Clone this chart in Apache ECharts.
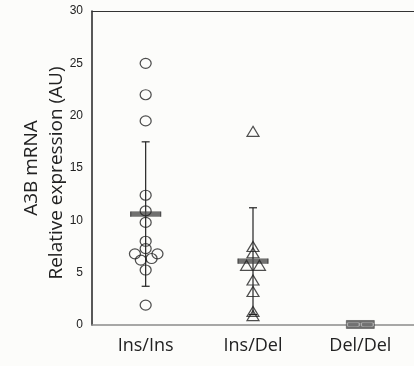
<!DOCTYPE html>
<html><head><meta charset="utf-8">
<script src="https://cdn.jsdelivr.net/npm/echarts@6/dist/echarts.min.js"></script>
<style>html,body{margin:0;padding:0;background:#fcfcfa}#c{width:414px;height:366px}</style>
</head><body><div id="c"></div>
<script>
const categories = ['Ins/Ins', 'Ins/Del', 'Del/Del'];
const yTicks = [0, 5, 10, 15, 20, 25, 30];
const insInsValues = [25, 22, 19.5, 12.4, 10.9, 9.8, 8.0, 7.3, 6.8, 6.2, 6.35, 6.8, 5.25, 1.9];
const insInsJitter = [0, 0, 0, 0, 0, 0, 0, 0, -0.1, -0.045, 0.055, 0.11, 0, 0];
const insDelValues = [18.5, 7.5, 6.9, 5.7, 5.7, 4.3, 3.2, 1.3, 0.9];
const insDelJitter = [0, 0, 0, -0.06, 0.06, 0, 0, 0, 0];
const delDelValues = [0.05, 0.05];
const delDelJitter = [-0.065, 0.065];
const means = [10.6, 6.1, 0.05];
const sdUpper = [17.5, 11.2, null];
const sdLower = [3.7, 1.0, null];

const toPts = (vals, jit, idx) => vals.map((v, i) => [idx + jit[i], v]);

const chart = echarts.init(document.getElementById('c'));
chart.setOption({
  backgroundColor: '#fcfcfa',
  animation: false,
  grid: { left: 92, right: -4, top: 11, bottom: 41 },
  xAxis: [
    { type: 'category', data: categories, boundaryGap: true, position: 'bottom',
      axisLine: { onZero: false, lineStyle: { color: '#8a8a8a', width: 1.5 } }, axisTick: { show: false },
      axisLabel: { color: '#222', fontSize: 18, fontFamily: 'Open Sans', margin: 12 } },
    { type: 'value', min: -0.5, max: 2.5, show: false, axisLine: { onZero: false } },
    { type: 'category', data: categories, position: 'top',
      axisLine: { onZero: false, lineStyle: { color: '#333', width: 1 } }, axisTick: { show: false }, axisLabel: { show: false } }
  ],
  yAxis: {
    type: 'value', min: yTicks[0], max: yTicks[yTicks.length - 1], interval: 5,
    axisLine: { show: true, onZero: false, lineStyle: { color: '#222', width: 1.5 } },
    axisTick: { show: false }, splitLine: { show: false },
    axisLabel: { color: '#222', fontSize: 12, fontFamily: 'Liberation Sans', margin: 9 }
  },
  graphic: [
    { type: 'text', x: 32, y: 168, rotation: Math.PI / 2, style: { text: 'A3B mRNA', font: '19px "Open Sans"', fill: '#222', align: 'center', verticalAlign: 'middle' } },
    { type: 'text', x: 57, y: 173, rotation: Math.PI / 2, style: { text: 'Relative expression (AU)', font: '19px "Open Sans"', fill: '#222', align: 'center', verticalAlign: 'middle' } }
  ],
  series: [
    { type: 'custom', xAxisIndex: 1, z: 2,
      data: means.map((m, i) => [i, sdLower[i], sdUpper[i]]).filter(d => d[2] != null),
      renderItem: (params, api) => {
        const top = api.coord([api.value(0), api.value(2)]);
        const bot = api.coord([api.value(0), api.value(1)]);
        const s = { stroke: '#222', lineWidth: 1.2 };
        return { type: 'group', children: [
          { type: 'line', shape: { x1: top[0], y1: top[1], x2: bot[0], y2: bot[1] }, style: s },
          { type: 'line', shape: { x1: top[0] - 4, y1: top[1], x2: top[0] + 4, y2: top[1] }, style: s },
          { type: 'line', shape: { x1: bot[0] - 4, y1: bot[1], x2: bot[0] + 4, y2: bot[1] }, style: s }
        ] };
      } },
    { type: 'scatter', xAxisIndex: 1, z: 3, symbol: 'rect', symbolSize: [30, 5],
      data: means.slice(0, 2).map((m, i) => [i, m]),
      itemStyle: { color: '#4d4d4d', borderColor: '#333', borderWidth: 0.5 } },
    { type: 'scatter', xAxisIndex: 1, z: 3, symbol: 'rect', symbolSize: [28, 8],
      data: [[2, means[2]]],
      itemStyle: { color: '#4a4a4a', borderColor: '#333', borderWidth: 0.5 } },
    { type: 'scatter', xAxisIndex: 1, z: 4, symbol: 'roundRect', symbolSize: [12, 4],
      data: toPts(delDelValues, delDelJitter, 2),
      itemStyle: { color: '#777', borderColor: '#bbb', borderWidth: 0.8 } },
    { type: 'scatter', xAxisIndex: 1, z: 5, symbol: 'circle', symbolSize: [11, 10],
      data: toPts(insInsValues, insInsJitter, 0),
      itemStyle: { color: 'rgba(0,0,0,0)', borderColor: '#222', borderWidth: 1.2 } },
    { type: 'scatter', xAxisIndex: 1, z: 5, symbol: 'triangle', symbolSize: [12, 10],
      data: toPts(insDelValues, insDelJitter, 1),
      itemStyle: { color: 'rgba(0,0,0,0)', borderColor: '#222', borderWidth: 1.2 } }
  ]
});
</script></body></html>
